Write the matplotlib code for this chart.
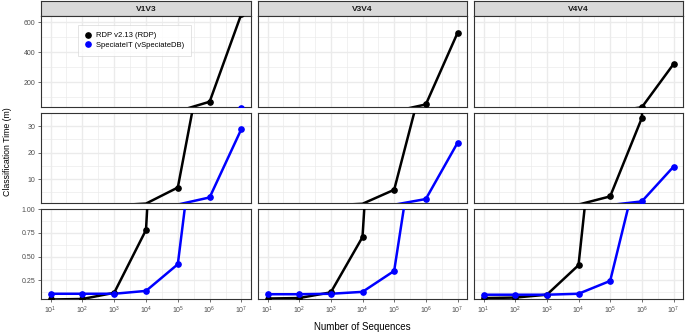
import matplotlib
matplotlib.use('Agg')
import matplotlib.pyplot as plt
import numpy as np
from matplotlib.ticker import FixedLocator, NullFormatter
from matplotlib.lines import Line2D

plt.rcParams['font.family'] = ['Liberation Sans', 'DejaVu Sans']

# 数据
n_seqs = [1e1, 1e2, 1e3, 1e4, 1e5, 1e6, 1e7]
regions = ['V1V3', 'V3V4', 'V4V4']
rdp_v1v3 = [0.05, 0.055, 0.12, 0.78, 6.85, 70, 655]
spec_v1v3 = [0.11, 0.11, 0.11, 0.14, 0.42, 3.1, 29.0]
rdp_v3v4 = [0.06, 0.065, 0.125, 0.705, 6.0, 52, 527]
spec_v3v4 = [0.105, 0.105, 0.11, 0.13, 0.35, 2.5, 23.7]
rdp_v4v4 = [0.065, 0.07, 0.10, 0.41, 3.5, 33.1, 320]
spec_v4v4 = [0.10, 0.10, 0.10, 0.11, 0.245, 1.6, 14.7]
rdp_all = [rdp_v1v3, rdp_v3v4, rdp_v4v4]
spec_all = [spec_v1v3, spec_v3v4, spec_v4v4]
labels = ['RDP v2.13 (RDP)', 'SpeciateIT (vSpeciateDB)']
colors = ['black', '#0000FF']

# 每行的y轴范围和刻度
row_lims = [(35, 640), (1.0, 35), (0.055, 1.0)]
row_major = [[200, 400, 600], [10, 20, 30], [0.25, 0.50, 0.75, 1.00]]
row_minor = [[100, 300, 500], [5, 15, 25, 35], [0.125, 0.375, 0.625, 0.875]]
row_ticklabels = [['200', '400', '600'], ['10', '20', '30'], ['0.25', '0.50', '0.75', '1.00']]

W, H = 685, 334
fig = plt.figure(figsize=(W / 100, H / 100), dpi=100)


def px_box(x0, y0, x1, y1):
    return [x0 / W, 1 - y1 / H, (x1 - x0) / W, (y1 - y0) / H]


cols = [(41, 251), (258, 467), (474, 683)]
rows = [(16, 107), (113, 203), (209, 299)]
grid_c = '#EBEBEB'
dark = '#333333'

axes = {}
for j, (x0, x1) in enumerate(cols):
    # 分面标题条
    sax = fig.add_axes(px_box(x0, 1, x1, 16))
    sax.set_xticks([])
    sax.set_yticks([])
    sax.set_facecolor('#D9D9D9')
    for sp in sax.spines.values():
        sp.set_color(dark)
        sp.set_linewidth(0.8)
    sax.text(0.5, 0.45, regions[j], ha='center', va='center', fontsize=6,
             fontweight='bold', color='#1A1A1A', transform=sax.transAxes)

    for i, (y0, y1) in enumerate(rows):
        ax = fig.add_axes(px_box(x0, y0, x1, y1))
        axes[(i, j)] = ax
        ax.set_xscale('log')
        ax.set_xlim(10 ** 0.7, 10 ** 7.3)
        lo, hi = row_lims[i]
        ax.set_ylim(lo, hi)

        for vals, c in zip([rdp_all[j], spec_all[j]], colors):
            ax.plot(n_seqs, vals, color=c, lw=1.8, zorder=3)
            # 只画落在(或略低于)本行范围内的点
            keep = [k for k, v in enumerate(vals) if v >= lo * 0.8]
            ax.plot([n_seqs[k] for k in keep], [vals[k] for k in keep], 'o',
                    color=c, ms=3.8, zorder=4)

        ax.xaxis.set_major_locator(FixedLocator(n_seqs))
        ax.xaxis.set_minor_locator(FixedLocator(10 ** np.arange(0.5, 8, 1.0)))
        ax.yaxis.set_major_locator(FixedLocator(row_major[i]))
        ax.yaxis.set_minor_locator(FixedLocator(row_minor[i]))
        ax.xaxis.set_minor_formatter(NullFormatter())

        ax.grid(which='major', color=grid_c, lw=1.0)
        ax.grid(which='minor', color=grid_c, lw=0.5)
        ax.set_axisbelow(True)

        for sp in ax.spines.values():
            sp.set_color(dark)
            sp.set_linewidth(0.8)

        ax.tick_params(which='minor', length=0)
        ax.tick_params(which='major', length=2.5, width=0.5, color=dark,
                       labelsize=5, labelcolor='#4D4D4D', pad=1.5)

        if j == 0:
            ax.set_yticklabels(row_ticklabels[i])
        else:
            ax.tick_params(axis='y', which='major', length=0, labelleft=False)

        if i == 2:
            ax.set_xticklabels(['$\\mathdefault{10^{%d}}$' % k for k in range(1, 8)])
        else:
            ax.tick_params(axis='x', which='major', length=0, labelbottom=False)

# 图例
handles = [Line2D([0], [0], marker='o', color='w', markerfacecolor=c, markeredgecolor=c,
                  markersize=3.8, label=l) for c, l in zip(colors, labels)]
leg = axes[(0, 0)].legend(handles=handles, loc='upper left', bbox_to_anchor=(0.176, 0.90),
                          borderaxespad=0, fontsize=5.5, frameon=True, fancybox=False,
                          handlelength=0.8, handletextpad=0.6, labelspacing=0.3,
                          borderpad=0.9)
leg.get_frame().set_edgecolor('#D0D0D0')
leg.get_frame().set_linewidth(0.5)

fig.text(362 / W, 1 - 327 / H, 'Number of Sequences', ha='center', va='center',
         fontsize=7, color='black')
fig.text(8 / W, 1 - 152 / H, 'Classification Time (m)', ha='center', va='center',
         rotation=90, fontsize=6.3, color='black')

plt.savefig('out.png', dpi=100)
